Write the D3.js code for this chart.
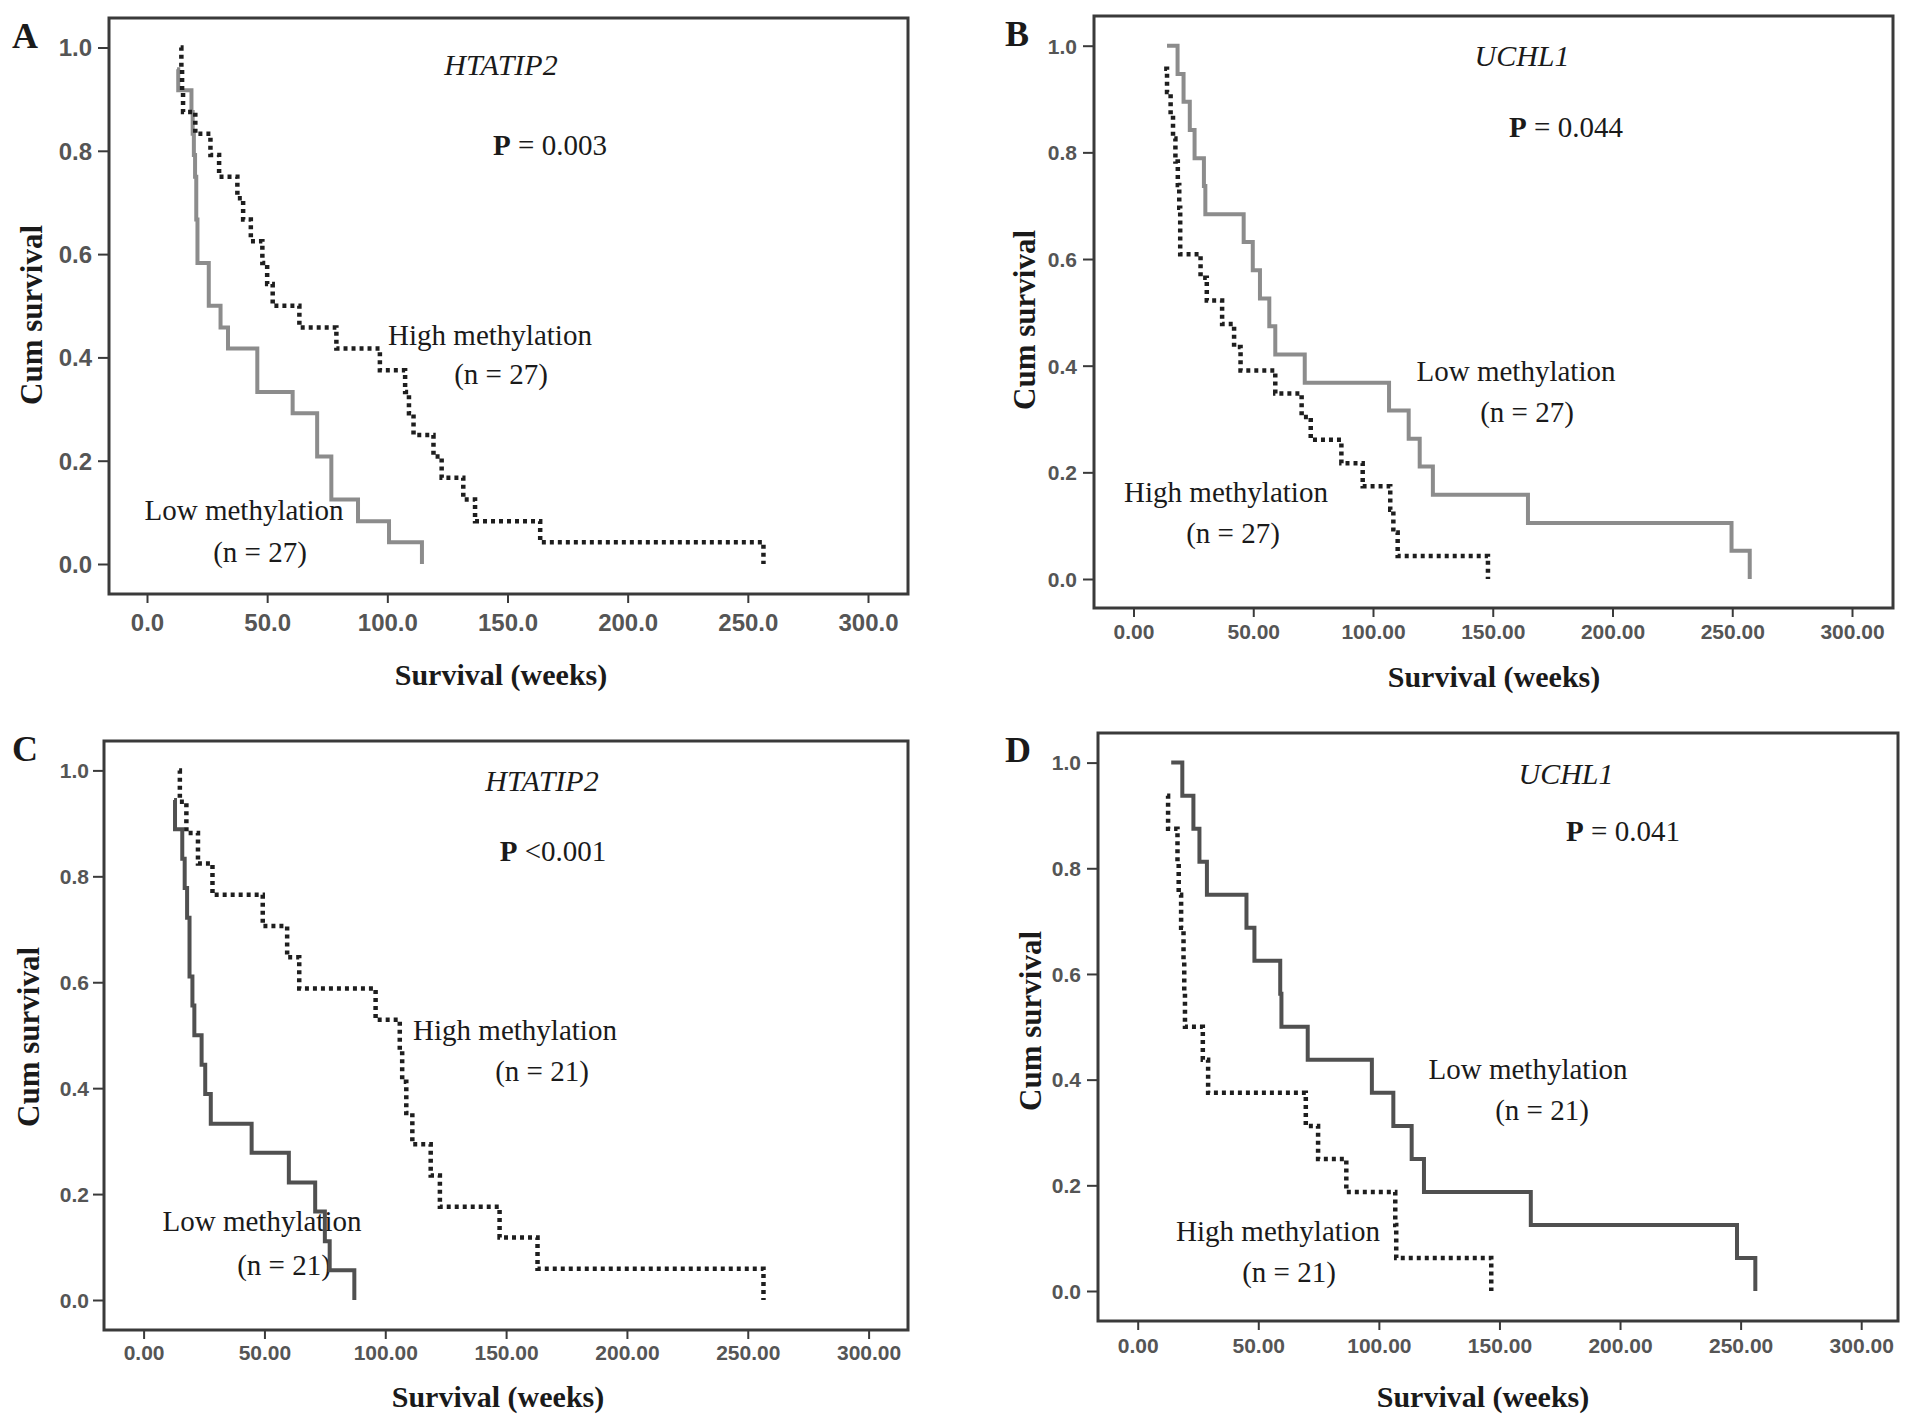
<!DOCTYPE html>
<html>
<head>
<meta charset="utf-8">
<script src="https://cdn.jsdelivr.net/npm/d3@7"></script>
<style>
  body { margin: 0; background: #fff; }
</style>
</head>
<body>
<div id="chart"></div>
<script>
// Kaplan-Meier panels, HTATIP2 / UCHL1 methylation

// tick values shared by all panels
const xTicks = [0, 50, 100, 150, 200, 250, 300];
const yTicks = [0, 0.2, 0.4, 0.6, 0.8, 1.0];

// panel A: HTATIP2
const aLowTime = [12.5, 13, 18.5, 19, 19.5, 20, 20.5, 21, 25.7, 30.6, 33.7, 45.9, 60.6, 70.8, 76.7, 87.8, 100.7, 114.4];
const aLowSurv = [0.958, 0.917, 0.875, 0.833, 0.792, 0.75, 0.667, 0.583, 0.5, 0.458, 0.417, 0.333, 0.292, 0.208, 0.125, 0.083, 0.042, 0];
const aHighTime = [14, 14.3, 14.6, 15, 20.1, 26.4, 30, 37.6, 40, 43.2, 48, 50, 52.3, 63.4, 78.8, 96.9, 107.4, 109, 110.9, 119.2, 122.6, 131.6, 136.5, 163.6, 256.5];
const aHighSurv = [1.0, 0.958, 0.917, 0.875, 0.833, 0.792, 0.75, 0.708, 0.667, 0.625, 0.583, 0.542, 0.5, 0.458, 0.417, 0.375, 0.333, 0.292, 0.25, 0.208, 0.167, 0.125, 0.083, 0.042, 0];

// panel B: UCHL1
const bLowTime = [14, 18.4, 20.9, 23.5, 25.5, 29.4, 30, 46, 49.8, 52.8, 56.7, 59.2, 71.5, 106.7, 114.9, 119.5, 125, 164.7, 249.7, 257.3];
const bLowSurv = [1.0, 0.947, 0.895, 0.842, 0.789, 0.737, 0.684, 0.632, 0.579, 0.526, 0.474, 0.421, 0.368, 0.316, 0.263, 0.211, 0.158, 0.105, 0.053, 0];
const bHighTime = [12.8, 14, 15.5, 16.5, 17.5, 18.5, 19.1, 19.5, 28, 30.6, 37, 42, 44.7, 59.2, 70.2, 74, 86.8, 95.7, 107.2, 108.5, 110.3, 148];
const bHighSurv = [0.957, 0.913, 0.870, 0.826, 0.783, 0.739, 0.696, 0.609, 0.565, 0.522, 0.478, 0.435, 0.391, 0.348, 0.304, 0.261, 0.217, 0.174, 0.130, 0.087, 0.043, 0];

// panel C: HTATIP2 (n = 21)
const cLowTime = [12.6, 13, 16, 17, 18, 19, 20.2, 21, 24, 25.5, 27.8, 44.7, 60.1, 71, 75, 77, 87.2];
const cLowSurv = [0.944, 0.889, 0.833, 0.778, 0.722, 0.611, 0.556, 0.5, 0.444, 0.389, 0.333, 0.278, 0.222, 0.167, 0.111, 0.056, 0];
const cHighTime = [14.7, 15, 17.7, 22.5, 28.5, 49.3, 59.4, 64.4, 96, 106, 107, 108.7, 111.2, 118.8, 122.6, 147.3, 163, 256.5];
const cHighSurv = [1.0, 0.941, 0.882, 0.824, 0.765, 0.706, 0.647, 0.588, 0.529, 0.471, 0.412, 0.353, 0.294, 0.235, 0.176, 0.118, 0.059, 0];

// panel D: UCHL1 (n = 21)
const dLowTime = [13.9, 18.5, 23.1, 25.6, 28.7, 45.1, 48.4, 59.1, 59.6, 70.5, 97.1, 106, 113.6, 118.7, 163, 248.5, 256.1];
const dLowSurv = [1.0, 0.9375, 0.875, 0.8125, 0.75, 0.6875, 0.625, 0.5625, 0.5, 0.4375, 0.375, 0.3125, 0.25, 0.1875, 0.125, 0.0625, 0];
const dHighTime = [12.2, 12.6, 16.5, 17, 18, 19, 19.3, 19.6, 27, 29.2, 69.7, 74.8, 86.5, 106.8, 107.2, 146.6];
const dHighSurv = [0.9375, 0.875, 0.8125, 0.75, 0.6875, 0.625, 0.5625, 0.5, 0.4375, 0.375, 0.3125, 0.25, 0.1875, 0.125, 0.0625, 0];

const serif = "'Liberation Serif', 'Times New Roman', serif";
const sans = "'Liberation Sans', Arial, sans-serif";

const svg = d3.select("#chart")
    .append("svg")
    .attr("width", 1913)
    .attr("height", 1422)
    .style("background", "#fff");

// layout of each panel (pixel positions)
const panels = [
    {
        letter: "A", gene: "HTATIP2", pText: " = 0.003", xFormat: ".1f",
        low: d3.zip(aLowTime, aLowSurv), high: d3.zip(aHighTime, aHighSurv),
        lowN: "(n = 27)", highN: "(n = 27)", lowColor: "#8c8c8c",
        frame: [109, 18, 908, 594], x0: 147, x300: 868, y0: 564, y1: 47.5,
        tickFont: 24, xLabelOff: 29, yLabelOff: 17,
        letterPos: [12, 48], genePos: [501, 75], pPos: [550, 155],
        highPos: [490, 345], highNPos: [501, 384], lowPos: [244, 520], lowNPos: [260, 562],
        xTitle: [501, 685], yTitle: [42, 315]
    },
    {
        letter: "B", gene: "UCHL1", pText: " = 0.044", xFormat: ".2f",
        low: d3.zip(bLowTime, bLowSurv), high: d3.zip(bHighTime, bHighSurv),
        lowN: "(n = 27)", highN: "(n = 27)", lowColor: "#8c8c8c",
        frame: [1094, 16, 1893, 608], x0: 1133.5, x300: 1852, y0: 579, y1: 45.7,
        tickFont: 21, xLabelOff: 24, yLabelOff: 17,
        letterPos: [1005, 46], genePos: [1522, 66], pPos: [1566, 137],
        highPos: [1226, 502], highNPos: [1233, 543], lowPos: [1516, 381], lowNPos: [1527, 422],
        xTitle: [1494, 687], yTitle: [1035, 320]
    },
    {
        letter: "C", gene: "HTATIP2", pText: " <0.001", xFormat: ".2f",
        low: d3.zip(cLowTime, cLowSurv), high: d3.zip(cHighTime, cHighSurv),
        lowN: "(n = 21)", highN: "(n = 21)", lowColor: "#505050",
        frame: [104, 741, 908, 1330], x0: 143.6, x300: 868.6, y0: 1300, y1: 770.4,
        tickFont: 21, xLabelOff: 23, yLabelOff: 15,
        letterPos: [12, 761], genePos: [542, 791], pPos: [553, 861],
        highPos: [515, 1040], highNPos: [542, 1081], lowPos: [262, 1231], lowNPos: [284, 1275],
        xTitle: [498, 1407], yTitle: [39, 1037]
    },
    {
        letter: "D", gene: "UCHL1", pText: " = 0.041", xFormat: ".2f",
        low: d3.zip(dLowTime, dLowSurv), high: d3.zip(dHighTime, dHighSurv),
        lowN: "(n = 21)", highN: "(n = 21)", lowColor: "#505050",
        frame: [1098, 733, 1898, 1321], x0: 1137.7, x300: 1861.2, y0: 1291, y1: 762.6,
        tickFont: 21, xLabelOff: 25, yLabelOff: 17,
        letterPos: [1005, 762], genePos: [1566, 784], pPos: [1623, 841],
        highPos: [1278, 1241], highNPos: [1289, 1282], lowPos: [1528, 1079], lowNPos: [1542, 1120],
        xTitle: [1483, 1407], yTitle: [1041, 1021]
    }
];

function addText(g, pos, str, size, opts = {}) {
    return g.append("text")
        .attr("x", pos[0])
        .attr("y", pos[1])
        .attr("text-anchor", opts.anchor || "middle")
        .attr("font-family", serif)
        .attr("font-size", size)
        .attr("font-weight", opts.weight || "normal")
        .attr("font-style", opts.style || "normal")
        .attr("fill", "#1a1a1a")
        .text(str);
}

// Function to draw one survival panel
function createKMPanel(cfg) {
    const g = svg.append("g");
    const [fx0, fy0, fx1, fy1] = cfg.frame;

    const x = d3.scaleLinear().domain([0, 300]).range([cfg.x0, cfg.x300]);
    const y = d3.scaleLinear().domain([0, 1]).range([cfg.y0, cfg.y1]);

    // plot frame
    g.append("rect")
        .attr("x", fx0)
        .attr("y", fy0)
        .attr("width", fx1 - fx0)
        .attr("height", fy1 - fy0)
        .attr("fill", "none")
        .attr("stroke", "#3a3a3a")
        .attr("stroke-width", 3);

    // x axis along frame bottom
    const xAxis = g.append("g")
        .attr("transform", `translate(0,${fy1})`)
        .call(d3.axisBottom(x).tickValues(xTicks).tickSize(9).tickFormat(d3.format(cfg.xFormat)));
    xAxis.select(".domain").remove();
    xAxis.selectAll("line").attr("stroke", "#3a3a3a").attr("stroke-width", 2);
    xAxis.selectAll("text")
        .attr("y", cfg.xLabelOff)
        .attr("dy", "0.35em")
        .attr("font-family", sans)
        .attr("font-size", cfg.tickFont)
        .attr("font-weight", "bold")
        .attr("fill", "#555");

    // y axis along frame left
    const yAxis = g.append("g")
        .attr("transform", `translate(${fx0},0)`)
        .call(d3.axisLeft(y).tickValues(yTicks).tickSize(11).tickFormat(d3.format(".1f")));
    yAxis.select(".domain").remove();
    yAxis.selectAll("line").attr("stroke", "#3a3a3a").attr("stroke-width", 2);
    yAxis.selectAll("text")
        .attr("x", -cfg.yLabelOff)
        .attr("dy", "0.35em")
        .attr("font-family", sans)
        .attr("font-size", cfg.tickFont)
        .attr("font-weight", "bold")
        .attr("fill", "#555");

    // titles and annotations
    addText(g, cfg.letterPos, cfg.letter, 36, { anchor: "start", weight: "bold" });
    addText(g, cfg.genePos, cfg.gene, 30, { style: "italic" });
    const p = addText(g, cfg.pPos, "", 29);
    p.append("tspan").attr("font-weight", "bold").text("P");
    p.append("tspan").text(cfg.pText);
    addText(g, cfg.highPos, "High methylation", 29);
    addText(g, cfg.highNPos, cfg.highN, 29);
    addText(g, cfg.lowPos, "Low methylation", 29);
    addText(g, cfg.lowNPos, cfg.lowN, 29);
    addText(g, cfg.xTitle, "Survival (weeks)", 30, { weight: "bold" });
    g.append("text")
        .attr("transform", `translate(${cfg.yTitle[0]},${cfg.yTitle[1]}) rotate(-90)`)
        .attr("text-anchor", "middle")
        .attr("font-family", serif)
        .attr("font-size", 31)
        .attr("font-weight", "bold")
        .attr("fill", "#1a1a1a")
        .text("Cum survival");

    // step curves
    const line = d3.line()
        .x(d => x(d[0]))
        .y(d => y(d[1]))
        .curve(d3.curveStepAfter);

    g.append("path")
        .datum(cfg.low)
        .attr("d", line)
        .attr("fill", "none")
        .attr("stroke", cfg.lowColor)
        .attr("stroke-width", 4);

    g.append("path")
        .datum(cfg.high)
        .attr("d", line)
        .attr("fill", "none")
        .attr("stroke", "#1e1e1e")
        .attr("stroke-width", 4.5)
        .attr("stroke-dasharray", "4,4");
}

panels.forEach(createKMPanel);
</script>
</body>
</html>
